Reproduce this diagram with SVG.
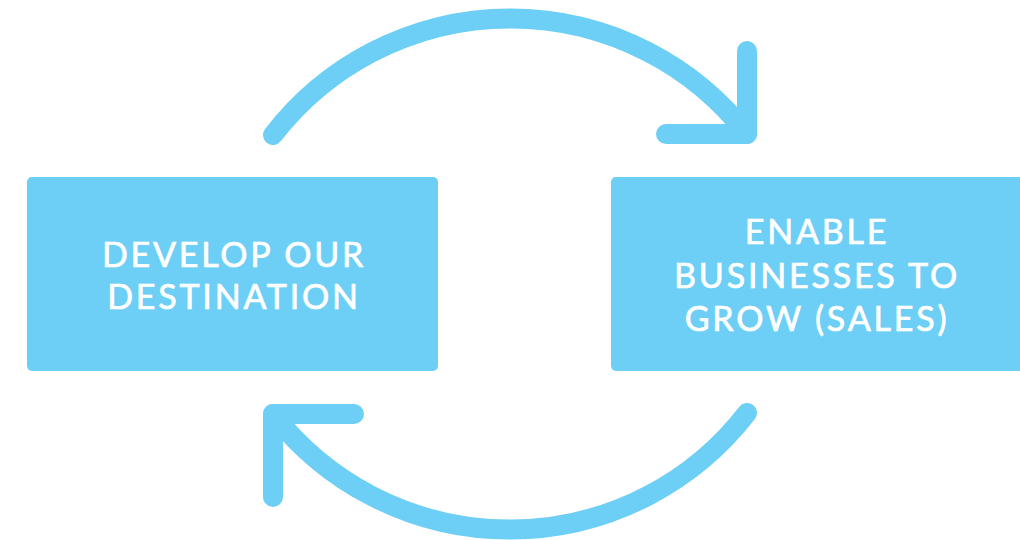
<svg xmlns="http://www.w3.org/2000/svg" width="1020" height="540" viewBox="0 0 1020 540">
  <style>
    .box { fill: #6DCFF6; }
    .lbl { fill: #FFFFFF; stroke: #FFFFFF; stroke-width: 0.7px; font-family: Lato, "Open Sans", sans-serif; font-weight: 400; font-size: 34px; letter-spacing: 2.8px; text-anchor: middle; }
    .arc { fill: none; stroke: #6DCFF6; stroke-width: 20; stroke-linecap: round; stroke-linejoin: round; }
  </style>
  <rect width="1020" height="540" fill="#FFFFFF"/>
  <g id="node-develop">
    <rect class="box" x="27" y="177" width="411" height="194" rx="5"/>
    <text class="lbl" x="234" y="267">DEVELOP OUR</text>
    <text class="lbl" x="234" y="309">DESTINATION</text>
  </g>
  <g id="node-enable">
    <rect class="box" x="611" y="177" width="420" height="194" rx="5"/>
    <text class="lbl" x="817" y="244">ENABLE</text>
    <text class="lbl" x="817" y="288">BUSINESSES TO</text>
    <text class="lbl" x="817" y="331">GROW (SALES)</text>
  </g>
  <g id="connectors">
    <path class="arc" d="M273,135 A300,300 0 0 1 747,134"/>
    <path class="arc" d="M747,51 L747,134 L666,134"/>
    <path class="arc" d="M747,413 A300,300 0 0 1 273,414"/>
    <path class="arc" d="M273,497 L273,414 L354,414"/>
  </g>
</svg>
